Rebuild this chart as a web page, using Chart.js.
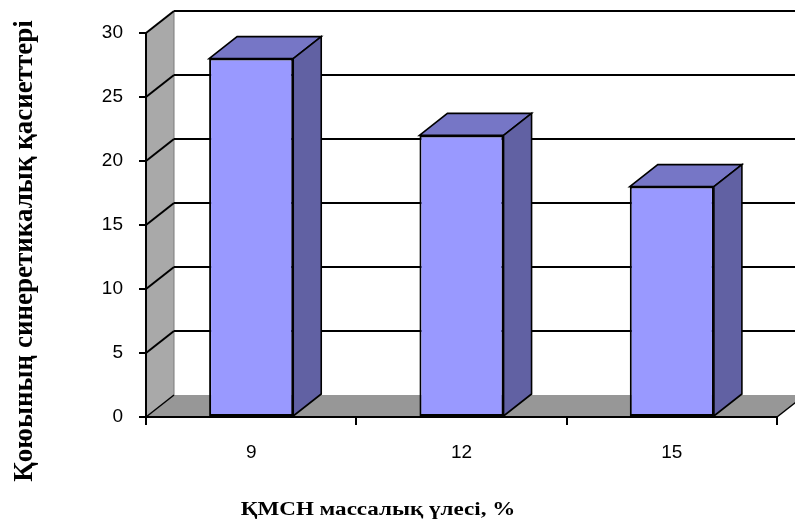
<!DOCTYPE html>
<html>
<head>
<meta charset="utf-8">
<script src="https://cdn.jsdelivr.net/npm/chart.js@4.4.1/dist/chart.umd.min.js"></script>
<style>
  html, body { margin: 0; padding: 0; background: #ffffff; overflow: hidden; }
  #wrap { width: 795px; height: 525px; position: relative; }
</style>
</head>
<body>
<div id="wrap"><canvas id="chart"></canvas></div>
<script>
// Mass fraction of the additive (%) and the measured synergetic property
const categories = ['9', '12', '15'];
const values = [28, 22, 18];
const yTicks = [0, 5, 10, 15, 20, 25, 30];
const xTitle = 'ҚМСН массалық үлесі, %';
const yTitle = 'Қоюының синеретикалық қасиеттері';

// Perspective offset of the back plane (pseudo-3D depth)
const DEPTH_X = 28;
const DEPTH_Y = -22;

const COLORS = {
  front: '#9999ff',
  top: '#7676c6',
  side: '#6161a3',
  sideWall: '#a9a9a9',
  floor: '#979797',
  line: '#000000'
};

function seg(ctx, x1, y1, x2, y2) {
  ctx.beginPath();
  ctx.moveTo(x1, y1);
  ctx.lineTo(x2, y2);
  ctx.stroke();
}

function poly(ctx, pts, fill) {
  ctx.beginPath();
  ctx.moveTo(pts[0][0], pts[0][1]);
  for (let i = 1; i < pts.length; i++) ctx.lineTo(pts[i][0], pts[i][1]);
  ctx.closePath();
  ctx.fillStyle = fill;
  ctx.fill();
}

// Side wall, floor and back-wall gridlines
const wallsPlugin = {
  id: 'walls',
  beforeDraw(chart) {
    const { ctx, chartArea: a, scales: { y } } = chart;
    const dx = DEPTH_X, dy = DEPTH_Y;
    ctx.save();
    poly(ctx, [[a.left, a.top], [a.left + dx, a.top + dy], [a.left + dx, a.bottom + dy], [a.left, a.bottom]], COLORS.sideWall);
    poly(ctx, [[a.left, a.bottom], [a.right, a.bottom], [a.right + dx, a.bottom + dy], [a.left + dx, a.bottom + dy]], COLORS.floor);

    ctx.strokeStyle = '#7a7a7a';
    ctx.lineWidth = 1;
    seg(ctx, a.left + dx, a.top + dy, a.left + dx, a.bottom + dy);

    ctx.strokeStyle = COLORS.line;
    ctx.lineWidth = 2;
    yTicks.forEach(v => {
      if (v === 0) return;
      const py = y.getPixelForValue(v);
      seg(ctx, a.left + dx, py + dy, a.right + dx + 40, py + dy);
      seg(ctx, a.left, py, a.left + dx, py + dy);
    });
    ctx.lineWidth = 1.5;
    seg(ctx, a.left, a.bottom, a.left + dx, a.bottom + dy);
    seg(ctx, a.right, a.bottom, a.right + dx, a.bottom + dy);
    ctx.restore();
  }
};

// Top and side faces of each bar
const bar3dPlugin = {
  id: 'bar3d',
  afterDatasetsDraw(chart) {
    const { ctx } = chart;
    const dx = DEPTH_X, dy = DEPTH_Y;
    ctx.save();
    ctx.strokeStyle = COLORS.line;
    ctx.lineWidth = 1.6;
    ctx.lineJoin = 'miter';
    chart.getDatasetMeta(0).data.forEach(bar => {
      const { x, y, base, width } = bar.getProps(['x', 'y', 'base', 'width'], true);
      const l = x - width / 2, r = x + width / 2;
      const top = [[l, y], [l + dx, y + dy], [r + dx, y + dy], [r, y]];
      const side = [[r, y], [r + dx, y + dy], [r + dx, base + dy], [r, base]];
      poly(ctx, top, COLORS.top);
      ctx.stroke();
      poly(ctx, side, COLORS.side);
      ctx.stroke();
    });
    ctx.restore();
  }
};

// Axis titles
const titlesPlugin = {
  id: 'axisTitles',
  afterDraw(chart) {
    const { ctx } = chart;
    ctx.save();
    ctx.fillStyle = '#000';
    ctx.textAlign = 'center';
    ctx.textBaseline = 'alphabetic';

    ctx.save();
    ctx.font = 'bold 18px "Liberation Serif", "Times New Roman", serif';
    ctx.translate(378, 515);
    ctx.scale(1.28, 1);
    ctx.fillText(xTitle, 0, 0);
    ctx.restore();

    ctx.save();
    ctx.font = 'bold 27px "Liberation Serif", "Times New Roman", serif';
    ctx.translate(32, 251);
    ctx.rotate(-Math.PI / 2);
    ctx.fillText(yTitle, 0, 0);
    ctx.restore();

    ctx.restore();
  }
};

new Chart(document.getElementById('chart'), {
  type: 'bar',
  data: {
    labels: categories,
    datasets: [{
      data: values,
      backgroundColor: COLORS.front,
      borderColor: COLORS.line,
      borderWidth: 2,
      borderSkipped: false,
      barPercentage: 0.4,
      categoryPercentage: 1.0
    }]
  },
  options: {
    responsive: true,
    maintainAspectRatio: false,
    animation: false,
    layout: { padding: { top: 33, right: 18, left: 0, bottom: 0 } },
    plugins: {
      legend: { display: false },
      tooltip: { enabled: false }
    },
    scales: {
      x: {
        grid: {
          display: true,
          drawOnChartArea: false,
          drawTicks: true,
          tickLength: 8,
          offset: true,
          color: COLORS.line,
          lineWidth: 2
        },
        border: { display: true, color: COLORS.line, width: 2 },
        ticks: {
          color: '#000',
          padding: 16,
          font: { family: '"Liberation Sans", Arial, sans-serif', size: 19 }
        },
        afterFit(scale) { scale.height = 108; }
      },
      y: {
        min: 0,
        max: 30,
        grid: {
          display: true,
          drawOnChartArea: false,
          drawTicks: true,
          tickLength: 7,
          color: COLORS.line,
          lineWidth: 2
        },
        border: { display: true, color: COLORS.line, width: 2 },
        ticks: {
          color: '#000',
          padding: 16,
          font: { family: '"Liberation Sans", Arial, sans-serif', size: 19 }
        },
        afterBuildTicks(scale) { scale.ticks = yTicks.map(v => ({ value: v })); },
        afterFit(scale) { scale.width = 146; }
      }
    }
  },
  plugins: [wallsPlugin, bar3dPlugin, titlesPlugin]
});
</script>
</body>
</html>
